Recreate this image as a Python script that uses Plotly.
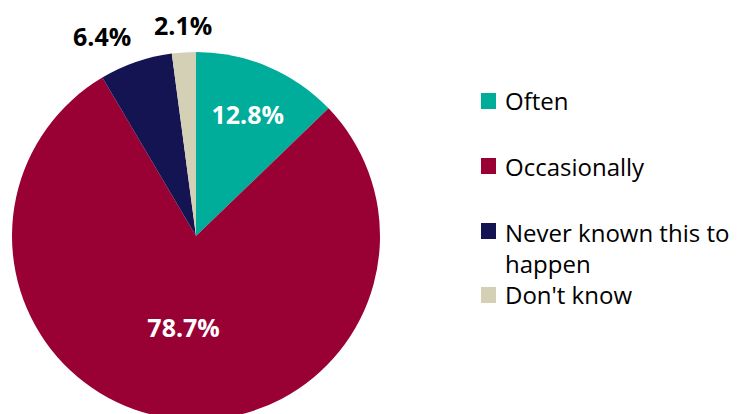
import math
import plotly.graph_objects as go

# Survey responses (share of respondents, %)
labels = ["Often", "Occasionally", "Never known this to happen", "Don't know"]
legend_text = ["Often", "Occasionally", "Never known this to<br>happen", "Don't know"]
values = [12.8, 78.7, 6.4, 2.1]
colors = ["#00AC9A", "#990033", "#141452", "#D3D0B5"]
inside_label = [True, True, False, False]

W, H = 742, 424
FONT = "Open Sans"
LABEL_SIZE = 25
LEGEND_SIZE = 24

# pie geometry in pixels (centre and radius), used for the domain
CX, CY, R = 196, 236, 184

fig = go.Figure(
    go.Pie(
        labels=labels,
        values=values,
        sort=False,
        direction="clockwise",
        rotation=0,
        marker=dict(colors=colors, line=dict(width=0)),
        texttemplate=["%{value:.1f}%" if ins else "" for ins in inside_label],
        textposition=["inside" if ins else "none" for ins in inside_label],
        insidetextorientation="horizontal",
        textfont=dict(family=FONT, size=LABEL_SIZE, color="white", weight="bold"),
        showlegend=False,
        hoverinfo="label+value",
        domain=dict(x=[(CX - R) / W, (CX + R) / W],
                    y=[(H - CY - R) / H, (H - CY + R) / H]),
    )
)

annotations, shapes = [], []

# Outside labels for the small slices, placed along each slice's mid angle
total = sum(values)
cum = 0.0
for v, ins in zip(values, inside_label):
    mid = (cum + v / 2) / total * 2 * math.pi
    cum += v
    if ins:
        continue
    s, c = math.sin(mid), math.cos(mid)
    rr = R + 8
    px, py = CX + rr * s, CY - rr * c
    xa = "center" if abs(s) < 0.2 else ("left" if s > 0 else "right")
    annotations.append(dict(text=f"{v:.1f}%", xref="paper", yref="paper",
                            x=px / W, y=(H - py) / H, xanchor=xa, yanchor="bottom",
                            showarrow=False,
                            font=dict(family=FONT, size=LABEL_SIZE, color="black",
                                      weight="bold")))

# Legend drawn as swatches + text so the wrapped entry keeps its spacing
legend_y = [101, 166, 231, 295]
for txt, col, yc in zip(legend_text, colors, legend_y):
    shapes.append(dict(type="rect", xref="paper", yref="paper",
                       x0=481 / W, x1=496 / W,
                       y0=(H - yc - 8) / H, y1=(H - yc + 8) / H,
                       fillcolor=col, line=dict(width=0)))
    multi = "<br>" in txt
    annotations.append(dict(text=txt, xref="paper", yref="paper",
                            x=503 / W, y=(H - yc + (17 if multi else 0)) / H,
                            xanchor="left", yanchor="top" if multi else "middle",
                            align="left", showarrow=False,
                            font=dict(family=FONT, size=LEGEND_SIZE, color="black")))

fig.update_layout(
    width=W, height=H,
    margin=dict(l=0, r=0, t=0, b=0),
    paper_bgcolor="white", plot_bgcolor="white",
    shapes=shapes, annotations=annotations,
)

fig.write_html("out.html", config={"displayModeBar": False},
               post_script="document.body.style.overflow='hidden';document.body.style.margin='0';")
